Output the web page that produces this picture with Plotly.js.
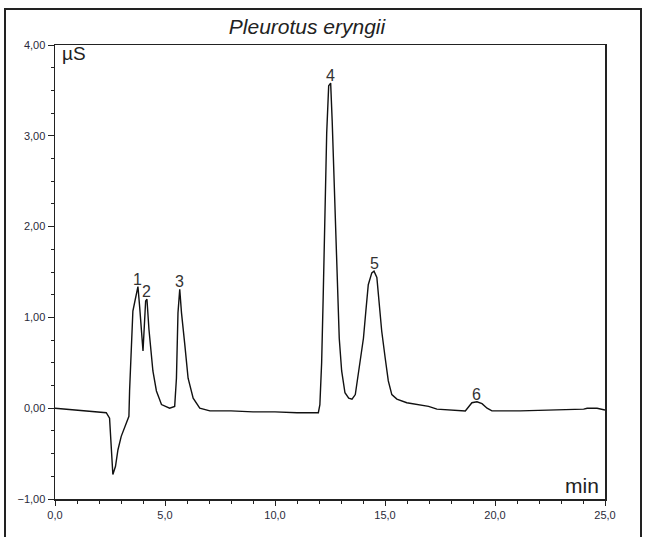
<!DOCTYPE html>
<html>
<head>
<meta charset="utf-8">
<script src="https://cdn.plot.ly/plotly-3.0.1.min.js"></script>
<style>html,body{margin:0;padding:0;background:#fff;}#chart{width:645px;height:537px;}</style>
</head>
<body>
<div id="chart"></div>
<script>
// Chromatogram of Pleurotus eryngii (time in min, conductivity in µS)
const timeMin = [0.0, 0.5, 1.0, 1.5, 2.0, 2.33, 2.48, 2.56, 2.63, 2.75, 2.86, 3.01, 3.16, 3.27, 3.36,
  3.39, 3.47, 3.54, 3.65, 3.77, 3.85, 3.93, 4.00, 4.12, 4.18, 4.27, 4.35, 4.45, 4.61, 4.84,
  5.21, 5.44, 5.52, 5.59, 5.67, 5.75, 5.90, 6.05, 6.28, 6.58, 7.04, 8.0, 9.0, 10.0, 11.0,
  11.97, 12.04, 12.12, 12.19, 12.27, 12.35, 12.44, 12.53, 12.60, 12.68, 12.76, 12.83, 12.92,
  13.03, 13.18, 13.35, 13.50, 13.65, 13.72, 13.87, 14.02, 14.13, 14.24, 14.40, 14.50, 14.63,
  14.70, 14.85, 15.01, 15.15, 15.31, 15.54, 15.99, 16.60, 16.98, 17.36, 18.65, 18.95, 19.18,
  19.41, 19.64, 19.86, 21.15, 24.03, 24.19, 24.64, 25.0];
const signalUS = [0.00, -0.01, -0.02, -0.03, -0.04, -0.05, -0.11, -0.49, -0.73, -0.64, -0.46, -0.31, -0.22, -0.16, -0.09,
  0.19, 0.76, 1.07, 1.20, 1.34, 1.11, 0.81, 0.63, 1.18, 1.20, 0.87, 0.63, 0.41, 0.19, 0.04,
  0.00, 0.02, 0.33, 1.05, 1.31, 1.05, 0.70, 0.33, 0.11, 0.00, -0.03, -0.03, -0.04, -0.04, -0.05,
  -0.05, 0.04, 0.50, 1.22, 2.17, 3.03, 3.55, 3.58, 3.16, 2.57, 1.88, 1.29, 0.77,
  0.41, 0.17, 0.11, 0.10, 0.15, 0.26, 0.52, 0.77, 1.07, 1.36, 1.49, 1.51, 1.44,
  1.22, 0.85, 0.55, 0.30, 0.15, 0.10, 0.06, 0.04, 0.02, -0.01, -0.03, 0.06, 0.07,
  0.05, 0.00, -0.03, -0.03, -0.01, 0.00, 0.00, -0.02];

const peakLabels = ["1", "2", "3", "4", "5", "6"];
const peakTimes = [3.77, 4.18, 5.67, 12.50, 14.50, 19.18];
const peakHeights = [1.34, 1.20, 1.31, 3.58, 1.51, 0.07];

const xTickVals = [0, 5, 10, 15, 20, 25];
const yTickVals = [-1, 0, 1, 2, 3, 4];

const textColor = '#2a2a3a';
const font = 'Liberation Sans, Arial, sans-serif';

const annotations = peakLabels.map((t, i) => ({
  x: peakTimes[i], y: peakHeights[i], xref: 'x', yref: 'y', text: t,
  showarrow: false, yanchor: 'bottom', yshift: -3,
  font: {family: font, size: 16, color: '#333'}
}));
annotations.push({xref: 'paper', yref: 'paper', x: 0, y: 1, xanchor: 'left', yanchor: 'top',
  xshift: 5, yshift: 4, text: 'µS', showarrow: false, font: {family: font, size: 19, color: '#222'}});
annotations.push({xref: 'paper', yref: 'paper', x: 1, y: 0, xanchor: 'right', yanchor: 'bottom',
  xshift: -4, yshift: 0, text: 'min', showarrow: false, font: {family: font, size: 21, color: '#222'}});

const trace = {
  x: timeMin, y: signalUS, type: 'scatter', mode: 'lines',
  line: {color: '#111', width: 1.4}, hoverinfo: 'skip'
};

const axisCommon = {
  showgrid: false, zeroline: false, showline: true, mirror: true,
  linecolor: '#222', linewidth: 1.5, ticks: 'outside', tickcolor: '#222',
  tickwidth: 1, tickfont: {family: font, size: 11, color: textColor}
};

const layout = {
  width: 645, height: 537,
  margin: {l: 55, r: 40, t: 45, b: 38, pad: 0},
  paper_bgcolor: '#fff', plot_bgcolor: '#fff',
  separators: ',.',
  showlegend: false,
  title: {text: '<i>Pleurotus eryngii</i>', x: 307 / 645, xref: 'container', xanchor: 'center',
    y: 1 - 27/537, yref: 'container', yanchor: 'middle',
    font: {family: font, size: 21, color: '#222'}},
  xaxis: Object.assign({}, axisCommon, {
    range: [0, 25], tickvals: xTickVals, tickformat: '.1f', ticklen: 5,
    minor: {dtick: 1, ticklen: 3, ticks: 'outside', tickcolor: '#222', showgrid: false}
  }),
  yaxis: Object.assign({}, axisCommon, {
    range: [-1, 4], tickvals: yTickVals, tickformat: '.2f', ticklen: 6,
    minor: {dtick: 0.25, ticklen: 3, ticks: 'outside', tickcolor: '#222', showgrid: false}
  }),
  annotations: annotations,
  shapes: [{
    type: 'rect', xref: 'paper', yref: 'paper',
    x0: (5 - 55) / 550, x1: (641 - 55) / 550,
    y0: (499 - 545) / 454, y1: (499 - 9) / 454,
    line: {color: '#222', width: 2}
  }]
};

Plotly.newPlot('chart', [trace], layout, {displayModeBar: false, staticPlot: true});
</script>
</body>
</html>
